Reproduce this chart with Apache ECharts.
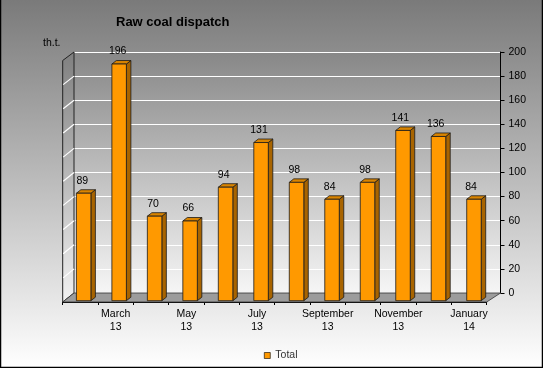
<!DOCTYPE html>
<html><head><meta charset="utf-8">
<script src="https://cdn.jsdelivr.net/npm/echarts@6/dist/echarts.min.js"></script>
<style>html,body{margin:0;padding:0;background:#fff}#c{width:543px;height:368px;}</style>
</head><body><div id="c"></div>
<script>
const categories = ['February\n13','March\n13','April\n13','May\n13','June\n13','July\n13','August\n13','September\n13','October\n13','November\n13','December\n13','January\n14'];
const totals = [89,196,70,66,94,131,98,84,98,141,136,84];
const seriesName = 'Total';
const yMin = 0, yMax = 200, yStep = 20;
const titleText = 'Raw coal dispatch';
const unitText = 'th.t.';

const FONT = "'Liberation Sans', Arial, sans-serif";
const W = 543, H = 368;
const back = {left:74, right:42.5, top:52, bottom:75};
const front = {left:62.7, right:56.3, top:60.5, bottom:66};

const chart = echarts.init(document.getElementById('c'), null, {renderer:'canvas'});

function renderBar(params, api){
  const idx = api.value(0);
  const v = api.value(1);
  const base = api.coord([idx, 0]);
  const topP = api.coord([idx, v]);
  const cs = params.coordSys;
  const t = (base[0]-cs.x)/cs.width;
  const off = 3.2 + 1.8*t;
  const fw = 14.5, dx = 4.5, dy = -3.5;
  const left = base[0] - fw/2 + off;
  const yb = base[1] - 1.3;
  const yt = topP[1] - 1.3;
  const ln = {stroke:'#1a1a1a', lineWidth:0.8};
  return {type:'group', children:[
    {type:'polygon', shape:{points:[[left+fw,yt],[left+fw+dx,yt+dy],[left+fw+dx,yb+dy],[left+fw,yb]]}, style:Object.assign({fill:'#A86400'}, ln)},
    {type:'polygon', shape:{points:[[left,yt],[left+dx,yt+dy],[left+fw+dx,yt+dy],[left+fw,yt]]}, style:Object.assign({fill:'#D98400'}, ln)},
    {type:'rect', shape:{x:left,y:yt,width:fw,height:yb-yt}, style:Object.assign({fill:'#FF9900'}, ln)},
    {type:'text', style:{text:String(v), x: base[0]+2, y: yt-7, align:'center', verticalAlign:'bottom', fontSize:10.5, fontFamily:FONT, fill:'#000'}}
  ]};
}

const grad = (a,b)=>new echarts.graphic.LinearGradient(0,0,0,1,[{offset:0,color:a},{offset:1,color:b}]);

chart.setOption({
  animation:false,
  title:[
    {text:titleText, left:111, top:11, textStyle:{fontSize:13, fontWeight:'bold', color:'#000', fontFamily:FONT}},
    {text:unitText, left:38, top:33, textStyle:{fontSize:10.5, fontWeight:'normal', color:'#000', fontFamily:FONT}}
  ],
  legend:{data:[seriesName], left:259, top:345, icon:'rect', itemWidth:6, itemHeight:6, itemGap:4,
    textStyle:{fontSize:10.5, color:'#333', fontFamily:FONT},
    itemStyle:{borderColor:'#000', borderWidth:0.6}},
  grid:[
    Object.assign({show:true, backgroundColor:grad('#878787','#f6f6f6'), borderWidth:0, containLabel:false}, back),
    Object.assign({show:false, containLabel:false}, front)
  ],
  xAxis:[
    {type:'category', gridIndex:0, data:categories, show:false},
    {type:'category', gridIndex:1, data:categories,
      axisLine:{show:true, lineStyle:{color:'#000', width:1}},
      axisTick:{show:true, length:3, interval:0, lineStyle:{color:'#000'}},
      axisLabel:{interval:(i)=>i%2===1, fontSize:10.5, lineHeight:12.5, color:'#000', fontFamily:FONT, margin:6},
      splitLine:{show:false}}
  ],
  yAxis:[
    {type:'value', gridIndex:0, position:'right', min:yMin, max:yMax, interval:yStep,
      axisLine:{show:true, lineStyle:{color:'#000', width:1}},
      axisTick:{show:true, length:4, lineStyle:{color:'#000'}},
      axisLabel:{fontSize:10.5, color:'#000', fontFamily:FONT, margin:8},
      splitLine:{show:true, lineStyle:{color:'#ffffff', width:1.2}}},
    {type:'value', gridIndex:1, min:yMin, max:yMax, interval:yStep, show:false, splitLine:{show:false}}
  ],
  series:[{
    type:'custom', name:seriesName, xAxisIndex:1, yAxisIndex:1, clip:false,
    itemStyle:{color:'#FF9900'},
    data: totals.map((v,i)=>[i,v]),
    encode:{x:0, y:1},
    renderItem: renderBar, z:5
  }]
});

// decorations: background, left wall, floor
const yB = v => chart.convertToPixel({yAxisIndex:0}, v);
const yF = v => chart.convertToPixel({yAxisIndex:1}, v);
const fL = front.left, fR = W - front.right, bL = back.left, bR = W - back.right;
const els = [];
els.push({type:'rect', z:-100, silent:true, shape:{x:0,y:0,width:W,height:H}, style:{fill:grad('#7a7a7a','#ffffff')}});
els.push({type:'polyline', z:10, silent:true, shape:{points:[[0.5,0],[0.5,H-0.5],[W-0.5,H-0.5],[W-0.5,0]]}, style:{stroke:'#000', lineWidth:1.5, fill:null}});
els.push({type:'polygon', z:1, silent:true, shape:{points:[[fL,yF(yMax)],[bL,yB(yMax)],[bL,yB(yMin)],[fL,yF(yMin)]]}, style:{fill:grad('#7f7f7f','#f2f2f2'), stroke:'#222', lineWidth:1}});
for (let v = yMin + yStep; v < yMax; v += yStep) {
  els.push({type:'line', z:1, silent:true, shape:{x1:fL+0.5,y1:yF(v),x2:bL,y2:yB(v)}, style:{stroke:'#ffffff', lineWidth:1.2}});
}
els.push({type:'polygon', z:1, silent:true, shape:{points:[[fL,yF(yMin)],[fR,yF(yMin)],[bR,yB(yMin)],[bL,yB(yMin)]]}, style:{fill:'#9c9c9c', stroke:'#333', lineWidth:0.8}});
chart.setOption({graphic:{elements:els}});
</script></body></html>
